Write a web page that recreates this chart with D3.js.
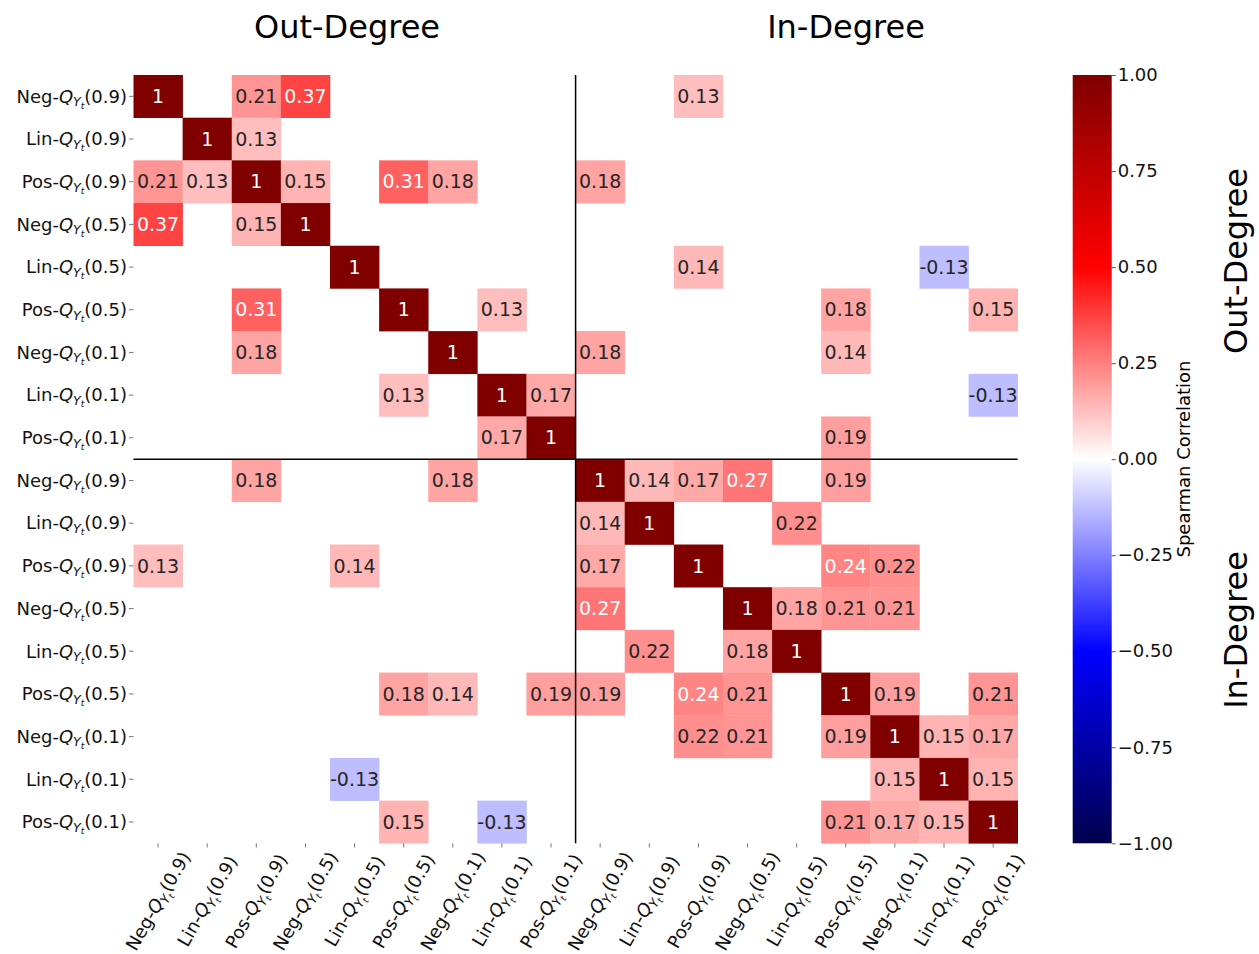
<!DOCTYPE html>
<html>
<head>
<meta charset="utf-8">
<script src="https://cdn.jsdelivr.net/npm/d3@7"></script>
<style>
  body { margin: 0; background: #fff; }
  svg { display: block; font-family: "DejaVu Sans", sans-serif; }
</style>
</head>
<body>
<div id="chart"></div>
<script>
// row / column labels: prefix + quantile, repeated for out- and in-degree
var prefixes = ["Neg", "Lin", "Pos", "Neg", "Lin", "Pos", "Neg", "Lin", "Pos"];
var quantiles = ["0.9", "0.9", "0.9", "0.5", "0.5", "0.5", "0.1", "0.1", "0.1"];
var groups = ["Out-Degree", "In-Degree"];
var cbTicks = [1, 0.75, 0.5, 0.25, 0, -0.25, -0.5, -0.75, -1];

// spearman correlations, 0 = not shown
var corr = [
  [1, 0, 0.21, 0.37, 0, 0, 0, 0, 0,   0, 0, 0.13, 0, 0, 0, 0, 0, 0],
  [0, 1, 0.13, 0, 0, 0, 0, 0, 0,      0, 0, 0, 0, 0, 0, 0, 0, 0],
  [0.21, 0.13, 1, 0.15, 0, 0.31, 0.18, 0, 0,  0.18, 0, 0, 0, 0, 0, 0, 0, 0],
  [0.37, 0, 0.15, 1, 0, 0, 0, 0, 0,   0, 0, 0, 0, 0, 0, 0, 0, 0],
  [0, 0, 0, 0, 1, 0, 0, 0, 0,         0, 0, 0.14, 0, 0, 0, 0, -0.13, 0],
  [0, 0, 0.31, 0, 0, 1, 0, 0.13, 0,   0, 0, 0, 0, 0, 0.18, 0, 0, 0.15],
  [0, 0, 0.18, 0, 0, 0, 1, 0, 0,      0.18, 0, 0, 0, 0, 0.14, 0, 0, 0],
  [0, 0, 0, 0, 0, 0.13, 0, 1, 0.17,   0, 0, 0, 0, 0, 0, 0, 0, -0.13],
  [0, 0, 0, 0, 0, 0, 0, 0.17, 1,      0, 0, 0, 0, 0, 0.19, 0, 0, 0],
  [0, 0, 0.18, 0, 0, 0, 0.18, 0, 0,   1, 0.14, 0.17, 0.27, 0, 0.19, 0, 0, 0],
  [0, 0, 0, 0, 0, 0, 0, 0, 0,         0.14, 1, 0, 0, 0.22, 0, 0, 0, 0],
  [0.13, 0, 0, 0, 0.14, 0, 0, 0, 0,   0.17, 0, 1, 0, 0, 0.24, 0.22, 0, 0],
  [0, 0, 0, 0, 0, 0, 0, 0, 0,         0.27, 0, 0, 1, 0.18, 0.21, 0.21, 0, 0],
  [0, 0, 0, 0, 0, 0, 0, 0, 0,         0, 0.22, 0, 0.18, 1, 0, 0, 0, 0],
  [0, 0, 0, 0, 0, 0.18, 0.14, 0, 0.19,  0.19, 0, 0.24, 0.21, 0, 1, 0.19, 0, 0.21],
  [0, 0, 0, 0, 0, 0, 0, 0, 0,         0, 0, 0.22, 0.21, 0, 0.19, 1, 0.15, 0.17],
  [0, 0, 0, 0, -0.13, 0, 0, 0, 0,     0, 0, 0, 0, 0, 0, 0.15, 1, 0.15],
  [0, 0, 0, 0, 0, 0.15, 0, -0.13, 0,  0, 0, 0, 0, 0, 0.21, 0.17, 0.15, 1]
];

var W = 1259, H = 954, fs = 18;
var n = corr.length;
var idx = d3.range(n);

var svg = d3.select("#chart").append("svg").attr("width", W).attr("height", H);

var x = d3.scaleBand().domain(idx).range([133.5, 1017.7]);
var y = d3.scaleBand().domain(idx).range([75, 843.3]);

// matplotlib seismic
var color = d3.scaleLinear()
  .domain([-1, -0.5, 0, 0.5, 1])
  .range(["#00004d", "#0000ff", "#ffffff", "#ff0000", "#800000"])
  .clamp(true);

function lum(c) {
  var rgb = d3.rgb(c);
  var lin = [rgb.r, rgb.g, rgb.b].map(function (v) {
    v = v / 255;
    return v <= 0.03928 ? v / 12.92 : Math.pow((v + 0.055) / 1.055, 2.4);
  });
  return 0.2126 * lin[0] + 0.7152 * lin[1] + 0.0722 * lin[2];
}

var cells = [];
corr.forEach(function (row, i) {
  row.forEach(function (v, j) { if (v !== 0) cells.push({ r: i, c: j, v: v }); });
});

var g = svg.append("g");
g.selectAll("rect.cell").data(cells).enter().append("rect")
  .attr("class", "cell")
  .attr("x", function (d) { return x(d.c); })
  .attr("y", function (d) { return y(d.r); })
  .attr("width", x.bandwidth() + 0.3)
  .attr("height", y.bandwidth() + 0.3)
  .attr("fill", function (d) { return color(d.v); });

g.selectAll("text.val").data(cells).enter().append("text")
  .attr("class", "val")
  .attr("x", function (d) { return x(d.c) + x.bandwidth() / 2; })
  .attr("y", function (d) { return y(d.r) + y.bandwidth() / 2; })
  .attr("dy", "0.35em")
  .attr("text-anchor", "middle")
  .attr("font-size", 19)
  .attr("fill", function (d) { return lum(color(d.v)) > 0.408 ? "#262626" : "#ffffff"; })
  .text(function (d) { return String(d.v); });

// separators between out / in blocks
svg.append("line")
  .attr("x1", x(9)).attr("x2", x(9))
  .attr("y1", y.range()[0]).attr("y2", y.range()[1])
  .attr("stroke", "#000").attr("stroke-width", 1.5);
svg.append("line")
  .attr("x1", x.range()[0]).attr("x2", x.range()[1])
  .attr("y1", y(9)).attr("y2", y(9))
  .attr("stroke", "#000").attr("stroke-width", 1.5);

// label builder: Neg-Q_{Y_t}(0.9)
function addLabel(text, i) {
  var k = i % 9;
  text.append("tspan").text(prefixes[k] + "-");
  text.append("tspan").attr("font-style", "italic").text("Q");
  text.append("tspan").attr("font-style", "italic").attr("font-size", fs * 0.7)
    .attr("dy", 3.5).text("Y");
  text.append("tspan").attr("font-style", "italic").attr("font-size", fs * 0.5)
    .attr("dy", 2.5).text("t");
  text.append("tspan").attr("dy", -6).text("(" + quantiles[k] + ")");
}

// y axis
var ya = svg.append("g");
idx.forEach(function (i) {
  var cy = y(i) + y.bandwidth() / 2;
  ya.append("line").attr("x1", 129).attr("x2", 133.5).attr("y1", cy).attr("y2", cy)
    .attr("stroke", "#555").attr("stroke-width", 0.8);
  var t = ya.append("text").attr("x", 127).attr("y", cy).attr("dy", "0.35em")
    .attr("text-anchor", "end").attr("font-size", fs).attr("fill", "#111");
  addLabel(t, i);
});

// x axis
var xa = svg.append("g");
idx.forEach(function (i) {
  var cx = x(i) + x.bandwidth() / 2;
  xa.append("line").attr("x1", cx).attr("x2", cx).attr("y1", 843.3).attr("y2", 847.5)
    .attr("stroke", "#555").attr("stroke-width", 0.8);
  var t = xa.append("text")
    .attr("transform", "translate(" + cx + ",901) rotate(-60)")
    .attr("dy", "0.35em")
    .attr("text-anchor", "middle").attr("font-size", fs).attr("fill", "#111");
  addLabel(t, i);
});

// titles
svg.append("text").attr("x", 347).attr("y", 38).attr("text-anchor", "middle")
  .attr("font-size", 32).text(groups[0]);
svg.append("text").attr("x", 846).attr("y", 38).attr("text-anchor", "middle")
  .attr("font-size", 32).text(groups[1]);
svg.append("text").attr("transform", "translate(1247,261) rotate(-90)")
  .attr("text-anchor", "middle").attr("font-size", 32).text(groups[0]);
svg.append("text").attr("transform", "translate(1247,630) rotate(-90)")
  .attr("text-anchor", "middle").attr("font-size", 32).text(groups[1]);

// colorbar
var cbX = 1072.7, cbW = 39;
var cbY = d3.scaleLinear().domain([-1, 1]).range([843.3, 75]);
var grad = svg.append("defs").append("linearGradient").attr("id", "cbgrad")
  .attr("x1", 0).attr("y1", 1).attr("x2", 0).attr("y2", 0);
d3.range(0, 1.0001, 0.05).forEach(function (t) {
  grad.append("stop").attr("offset", t).attr("stop-color", color(-1 + 2 * t));
});
svg.append("rect").attr("x", cbX).attr("y", 75).attr("width", cbW)
  .attr("height", 843.3 - 75).attr("fill", "url(#cbgrad)");

var cbAxis = svg.append("g").attr("transform", "translate(" + (cbX + cbW) + ",0)")
  .call(d3.axisRight(cbY).tickValues(cbTicks).tickFormat(d3.format(".2f"))
    .tickSize(4).tickPadding(2));
cbAxis.select(".domain").remove();
cbAxis.selectAll("text").attr("font-size", fs).attr("font-family", "DejaVu Sans").attr("fill", "#111");
cbAxis.selectAll("line").attr("stroke", "#555");

svg.append("text").attr("transform", "translate(1190,459) rotate(-90)")
  .attr("text-anchor", "middle").attr("font-size", 18).text("Spearman Correlation");
</script>
</body>
</html>
